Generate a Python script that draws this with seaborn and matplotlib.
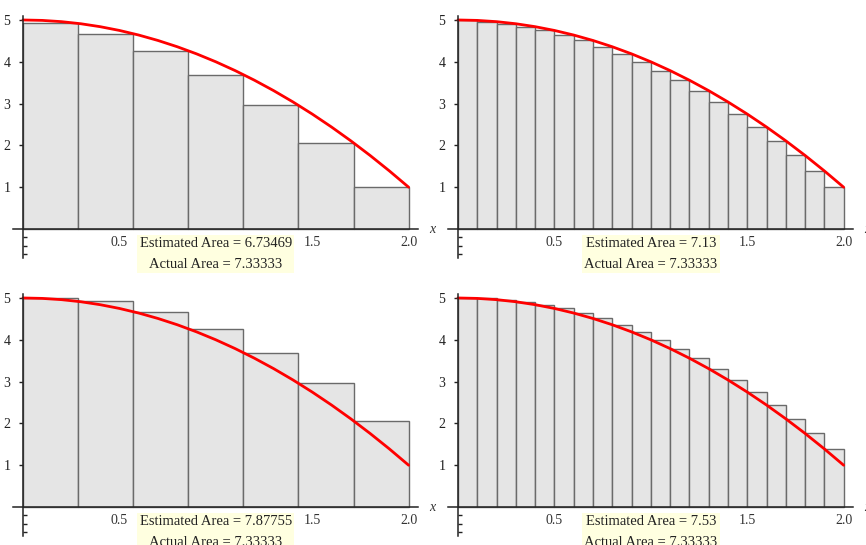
import numpy as np
import matplotlib
matplotlib.use('Agg')
import matplotlib.pyplot as plt
import seaborn as sns
import pandas as pd

# f(x) = 5 - x^2, step 0.1 from 0 to 2
curve_x = [0.0, 0.1, 0.2, 0.3, 0.4, 0.5, 0.6, 0.7, 0.8, 0.9, 1.0,
           1.1, 1.2, 1.3, 1.4, 1.5, 1.6, 1.7, 1.8, 1.9, 2.0]
curve_y = [5.00, 4.99, 4.96, 4.91, 4.84, 4.75, 4.64, 4.51, 4.36, 4.19, 4.00,
           3.79, 3.56, 3.31, 3.04, 2.75, 2.44, 2.11, 1.76, 1.39, 1.00]

# bar heights for each panel
right7 = [4.92, 4.67, 4.27, 3.69, 2.96, 2.06, 1.00]
right20 = [4.99, 4.96, 4.91, 4.84, 4.75, 4.64, 4.51, 4.36, 4.19, 4.00,
           3.79, 3.56, 3.31, 3.04, 2.75, 2.44, 2.11, 1.76, 1.39, 1.00]
left7 = [5.00, 4.92, 4.67, 4.27, 3.69, 2.96, 2.06]
left20 = [5.00, 4.99, 4.96, 4.91, 4.84, 4.75, 4.64, 4.51, 4.36, 4.19,
          4.00, 3.79, 3.56, 3.31, 3.04, 2.75, 2.44, 2.11, 1.76, 1.39]

estimated = ['6.73469', '7.13', '7.87755', '7.53']
actual = '7.33333'
# the 1.0 label sits under the area box in the original, so it's left out
xtick_vals = [0.5, 1.5, 2.0]
xtick_labels = ['0.5', '1.5', '2.0']
ytick_vals = [1, 2, 3, 4, 5]

sns.set_theme(style='white')
plt.rcParams['font.family'] = ['Liberation Serif', 'DejaVu Serif']

curve = pd.DataFrame({'x': curve_x, 'y': curve_y})

fig = plt.figure(figsize=(8.66, 5.45), dpi=100)
W, H = 866, 545
# pixel boxes: (left, bottom-from-top)
boxes = [(13.3, 258.3), (448.3, 258.3), (13.3, 536.3), (448.3, 536.3)]
panels = [right7, right20, left7, left20]

for (lx, by), heights, est in zip(boxes, panels, estimated):
    ax = fig.add_axes([lx / W, (H - by) / H, 405 / W, 242.5 / H])
    n = len(heights)
    edges = np.linspace(0, 2, n + 1)
    ax.bar(edges[:-1], heights, width=2 / n, align='edge',
           color='#e5e5e5', edgecolor='#6a6a6a', linewidth=1.0, zorder=1)
    sns.lineplot(data=curve, x='x', y='y', ax=ax, color='#ff0000',
                 linewidth=2.0, zorder=3)

    ax.set_xlim(-0.05, 2.05)
    ax.set_ylim(-0.7, 5.1)
    ax.set_xlabel('')
    ax.set_ylabel('')

    for s in ['top', 'right']:
        ax.spines[s].set_visible(False)
    ax.spines['left'].set_position(('data', 0))
    ax.spines['bottom'].set_position(('data', 0))
    for s in ['left', 'bottom']:
        ax.spines[s].set_color('#222222')
        ax.spines[s].set_linewidth(1.1)
        ax.spines[s].set_zorder(4)

    ax.set_xticks(xtick_vals)
    ax.set_xticklabels(xtick_labels)
    ax.set_yticks(ytick_vals)
    ax.set_yticks([-0.2, -0.4, -0.6], minor=True)
    ax.tick_params(axis='x', length=0, pad=5, labelsize=10, colors='#333333')
    ax.tick_params(axis='y', which='major', direction='out', length=3,
                   width=1, pad=6, labelsize=10, colors='#222222', left=True)
    ax.tick_params(axis='y', which='minor', direction='in', length=3,
                   width=1, left=True, color='#222222')

    ax.text(2.12, 0, 'x', style='italic', fontsize=10, ha='center',
            va='center', color='#333333', clip_on=False)
    ax.text(1.0, -0.2, 'Estimated Area = ' + est + '\nActual Area = ' + actual,
            ha='center', va='top', fontsize=10.5, linespacing=1.75,
            color='#222222', zorder=10, clip_on=False,
            bbox=dict(boxstyle='square,pad=0.15', facecolor='#ffffe0',
                      edgecolor='none'))

fig.savefig('out.png', dpi=100)
